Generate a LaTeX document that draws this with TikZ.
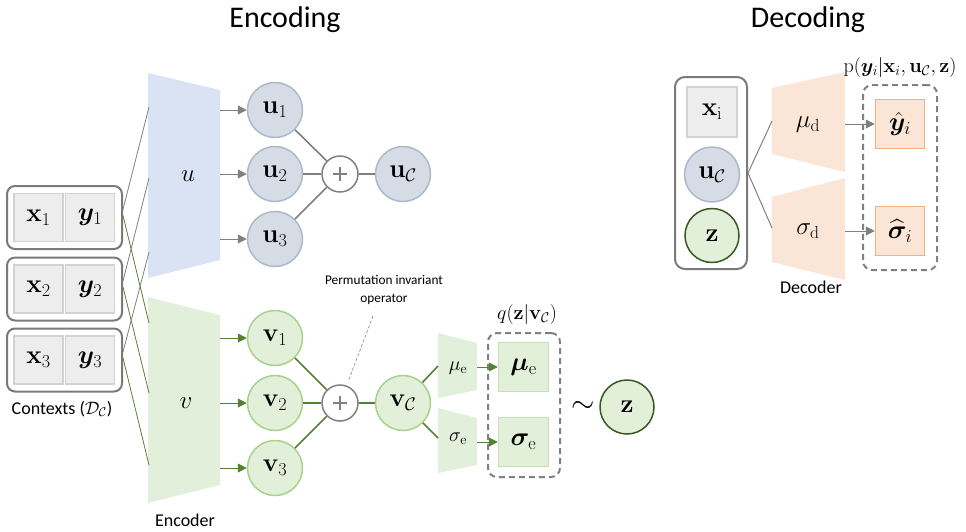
\RequirePackage{fix-cm}
\documentclass[tikz,border=0pt]{standalone}
\usepackage{amsmath,bm}
\usepackage[no-math]{fontspec}
\setmainfont{Carlito}
\usetikzlibrary{arrows.meta}

\definecolor{boxgrey}{HTML}{7A7A7A}
\definecolor{cellfill}{HTML}{EDEDED}
\definecolor{celledge}{HTML}{D2D2D2}
\definecolor{linegrey}{HTML}{808080}
\definecolor{utrap}{HTML}{DAE3F3}
\definecolor{ufill}{HTML}{D6DCE5}
\definecolor{uedge}{HTML}{ADB9CA}
\definecolor{vtrap}{HTML}{E2EFDA}
\definecolor{vfill}{HTML}{E2F0D9}
\definecolor{vedge}{HTML}{A9D18E}
\definecolor{vbox}{HTML}{C5E0B4}
\definecolor{gline}{HTML}{548235}
\definecolor{zedge}{HTML}{385723}
\definecolor{ofill}{HTML}{FBE5D6}
\definecolor{oedge}{HTML}{F4B183}

\newcommand{\mathsz}{\fontsize{26}{30}\selectfont}
\newcommand{\labsz}{\fontsize{18}{21}\selectfont}

\tikzset{
  ctxbox/.style={draw=boxgrey, line width=2pt, rounded corners=8pt,
    minimum width=115pt, minimum height=63pt, inner sep=0pt},
  cell/.style={draw=celledge, fill=cellfill, line width=1.3pt,
    minimum width=49pt, minimum height=48pt, inner sep=0pt, font=\mathsz},
  ucirc/.style={circle, draw=uedge, fill=ufill, line width=1.5pt,
    minimum size=55pt, inner sep=0pt, font=\mathsz},
  vcirc/.style={circle, draw=vedge, fill=vfill, line width=1.5pt,
    minimum size=55pt, inner sep=0pt, font=\mathsz},
  zcirc/.style={circle, draw=zedge, fill=vfill, line width=1.5pt,
    minimum size=54pt, inner sep=0pt, font=\mathsz},
  plusnode/.style={circle, draw=linegrey, fill=white, line width=1.5pt,
    minimum size=36pt, inner sep=0pt},
  greybar/.style={draw=linegrey, line width=1.6pt},
  greenbar/.style={draw=gline, line width=1.6pt},
  ctxline/.style={draw=linegrey, line width=0.8pt},
  ctxgreen/.style={draw=gline, line width=0.8pt},
  garrow/.style={draw=linegrey, line width=1pt,
    -{Triangle[length=9pt,width=9pt]}, fill=linegrey},
  grarrow/.style={draw=gline, line width=1pt,
    -{Triangle[length=9pt,width=9pt]}, fill=gline},
  ebox/.style={draw=vbox, fill=vfill, line width=1.5pt,
    minimum width=50pt, minimum height=49pt, inner sep=0pt,
    font=\fontsize{26}{30}\selectfont},
  obox/.style={draw=oedge, fill=ofill, line width=1.5pt,
    minimum width=49pt, minimum height=49pt, inner sep=0pt,
    font=\fontsize{26}{30}\selectfont},
  dashbox/.style={draw=linegrey, line width=2pt, dash pattern=on 6pt off 4pt,
    rounded corners=9pt, inner sep=0pt},
  title/.style={font=\fontsize{30}{34}\selectfont, anchor=base},
  caption/.style={font=\labsz},
  trlabel/.style={font=\fontsize{25}{29}\selectfont},
  smlabel/.style={font=\fontsize{20}{24}\selectfont},
}

\begin{document}
\begin{tikzpicture}[x=1pt, y=-1pt]
\useasboundingbox (0,0) rectangle (966,531);

% ---------- titles ----------
\node[title] (enctitle) at (285,27) {Encoding};
\node[title] (dectitle) at (808,27) {Decoding};

% ---------- encoder bodies ----------
\fill[utrap] (148,73) -- (220,90) -- (220,260) -- (148,278) -- cycle;
\fill[vtrap] (148,297) -- (220,315) -- (220,485) -- (148,503) -- cycle;
\node[trlabel] (ulab) at (188,176) {$u$};
\node[trlabel] (vlab) at (186,403) {$v$};
\node[caption] (enclab) at (185,520) {Encoder};

\coordinate (uin1) at (149,107);
\coordinate (uin2) at (149,178);
\coordinate (uin3) at (149,252);
\coordinate (vin1) at (149,323);
\coordinate (vin2) at (149,393);
\coordinate (vin3) at (149,465);

% ---------- context pairs ----------
\foreach \i/\yy in {1/217.5, 2/289, 3/360}{
  \node[ctxbox] (ctx\i) at (64.5,\yy) {};
  \node[cell] (cx\i) at (38.5,\yy) {$\mathbf{x}_{\i}$};
  \node[cell] (cy\i) at (90,\yy) {$\bm{y}_{\i}$};
}
\node[caption] (ctxlab) at (62,409) {Contexts ($\mathcal{D}_{\mathcal{C}}$)};

\foreach \i in {1,2,3}{
  \draw[ctxline] ([yshift=8pt]ctx\i.east) -- (uin\i);
  \draw[ctxgreen] ([yshift=2pt]ctx\i.east) -- (vin\i);
}

% ---------- deterministic path ----------
\node[ucirc] (u1) at (275,110) {$\mathbf{u}_1$};
\node[ucirc] (u2) at (275,174) {$\mathbf{u}_2$};
\node[ucirc] (u3) at (275,239) {$\mathbf{u}_3$};
\node[plusnode] (pu) at (340,174) {};
\node[ucirc] (uC) at (403,174) {$\mathbf{u}_{\mathcal{C}}$};

\foreach \i/\yy in {1/110, 2/174, 3/239}{
  \coordinate (uout\i) at (220,\yy);
  \draw[garrow] (uout\i) -- (u\i);
  \draw[greybar] (u\i) -- (pu);
}
\draw[greybar] (pu) -- (uC);
\draw[line width=2pt, linegrey] ([xshift=-7pt]pu.center) -- ([xshift=7pt]pu.center)
  ([yshift=-7pt]pu.center) -- ([yshift=7pt]pu.center);

% ---------- latent path ----------
\node[vcirc] (v1) at (275,338) {$\mathbf{v}_1$};
\node[vcirc] (v2) at (275,403) {$\mathbf{v}_2$};
\node[vcirc] (v3) at (275,468) {$\mathbf{v}_3$};
\node[plusnode] (pv) at (340,403) {};
\node[vcirc] (vC) at (403,403) {$\mathbf{v}_{\mathcal{C}}$};

\foreach \i/\yy in {1/338, 2/403, 3/468}{
  \coordinate (vout\i) at (220,\yy);
  \draw[grarrow] (vout\i) -- (v\i);
  \draw[greenbar] (v\i) -- (pv);
}
\draw[greenbar] (pv) -- (vC);
\draw[line width=2pt, linegrey] ([xshift=-7pt]pv.center) -- ([xshift=7pt]pv.center)
  ([yshift=-7pt]pv.center) -- ([yshift=7pt]pv.center);

\node[align=center, font=\fontsize{13.3}{18}\selectfont] (perm) at (384,290)
  {Permutation invariant\\operator};
\coordinate (permtip) at (373,316);
\draw[linegrey!80, line width=0.8pt, dash pattern=on 3pt off 2pt, shorten >=6pt]
  (permtip) -- (pv);

% ---------- posterior heads ----------
\fill[vtrap] (438,333) -- (477,343) -- (477,390) -- (438,398) -- cycle;
\fill[vtrap] (438,408) -- (477,418) -- (477,465) -- (438,473) -- cycle;
\node[smlabel] (mue) at (458,368) {$\mu_{\mathrm{e}}$};
\node[smlabel] (sige) at (458,439) {$\sigma_{\mathrm{e}}$};
\coordinate (muein) at (438,366);
\coordinate (sigein) at (438,438);
\draw[greenbar] (vC) -- (muein);
\draw[greenbar] (vC) -- (sigein);

\node[dashbox, minimum width=72pt, minimum height=144pt] (qbox) at (524,405) {};
\node[ebox] (muE) at (523.5,367) {$\bm{\mu}_{\mathrm{e}}$};
\node[ebox] (sigE) at (523.5,442) {$\bm{\sigma}_{\mathrm{e}}$};
\coordinate (mueout) at (477,367);
\coordinate (sigeout) at (477,442);
\draw[grarrow] (mueout) -- (muE);
\draw[grarrow] (sigeout) -- (sigE);
\node[font=\fontsize{20}{24}\selectfont] (qlab) at (527,314)
  {$q(\mathbf{z}|\mathbf{v}_{\mathcal{C}})$};

\node[font=\fontsize{30}{32}\selectfont] (tilde) at (583,407) {$\sim$};
\node[zcirc] (zenc) at (627,407) {$\mathbf{z}$};

% ---------- decoder ----------
\node[ctxbox, minimum width=72pt, minimum height=192pt, rounded corners=10pt]
  (dec) at (711,173) {};
\node[cell, minimum width=50pt, minimum height=50pt] (xi) at (712,112)
  {$\mathbf{x}_{\mathrm{i}}$};
\node[ucirc] (uCd) at (712,174.5) {$\mathbf{u}_{\mathcal{C}}$};
\node[zcirc] (zd) at (712,235.5) {$\mathbf{z}$};

\fill[ofill] (772,88) -- (845,72) -- (845,172) -- (772,154) -- cycle;
\fill[ofill] (772,197) -- (845,178) -- (845,280) -- (772,262) -- cycle;
\node[trlabel] (mud) at (808,125) {$\mu_{\mathrm{d}}$};
\node[trlabel] (sigd) at (808,231) {$\sigma_{\mathrm{d}}$};
\node[caption] (declab) at (811,287) {Decoder};
\coordinate (mudin) at (772,121);
\coordinate (sigdin) at (772,228);
\draw[ctxline, line width=1pt] (dec.east) -- (mudin);
\draw[ctxline, line width=1pt] (dec.east) -- (sigdin);

\node[dashbox, minimum width=74pt, minimum height=185pt] (pbox) at (900,177.5) {};
\node[obox] (yhat) at (900,124) {$\hat{\bm{y}}_i$};
\node[obox] (sighat) at (900,231) {$\widehat{\bm{\sigma}}_i$};
\coordinate (mudout) at (845,124);
\coordinate (sigdout) at (845,231);
\draw[garrow] (mudout) -- (yhat);
\draw[garrow] (sigdout) -- (sighat);
\node[font=\fontsize{20}{23}\selectfont] (plab) at (900,67)
  {$\mathrm{p}(\bm{y}_i|\mathbf{x}_i,\mathbf{u}_{\mathcal{C}},\mathbf{z})$};

\end{tikzpicture}
\end{document}
